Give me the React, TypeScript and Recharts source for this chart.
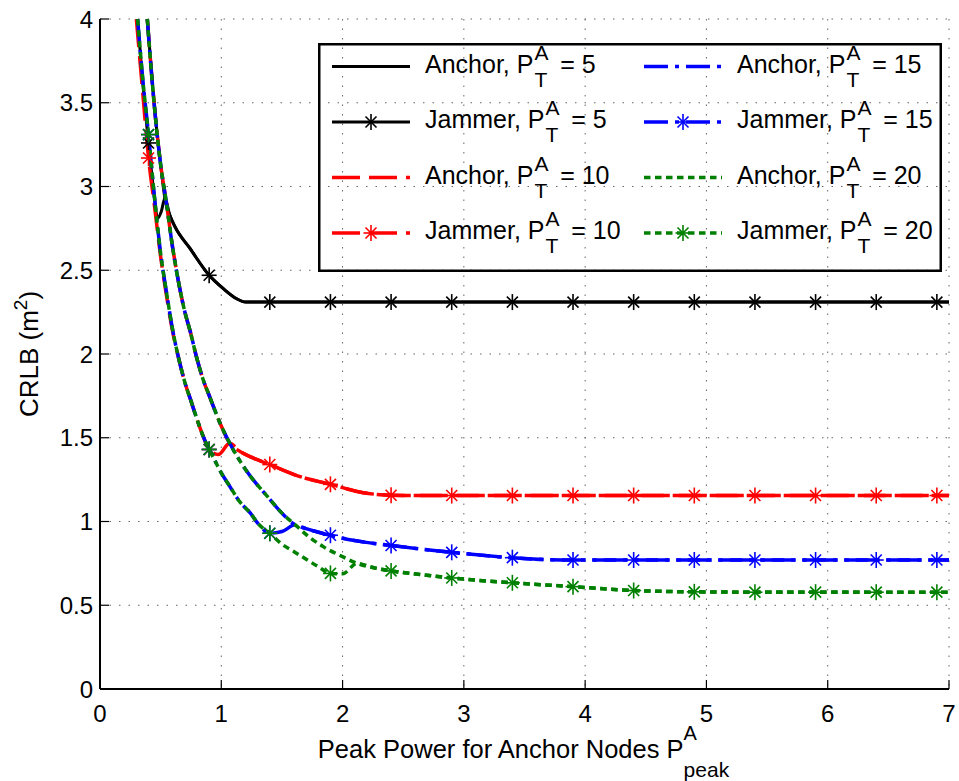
import { LineChart, Line, XAxis, YAxis, CartesianGrid, Legend, Label } from "recharts";

const FONT = "'Liberation Sans', Arial, Helvetica, sans-serif";

const X_TICKS = [0, 1, 2, 3, 4, 5, 6, 7];
const Y_TICKS = [0, 0.5, 1, 1.5, 2, 2.5, 3, 3.5, 4];
const MARKER_X = [0.4, 0.9, 1.4, 1.9, 2.4, 2.9, 3.4, 3.9, 4.4, 4.9, 5.4, 5.9, 6.4, 6.9];

// [x, CRLB]
const anchor5 = [
  [0.39, 4.0], [0.43, 3.63], [0.467, 3.34], [0.5, 3.13], [0.535, 2.93], [0.575, 2.83], [0.618, 2.76],
  [0.742, 2.63], [0.9, 2.47], [1.017, 2.39], [1.127, 2.33], [1.2, 2.31], [7, 2.31],
];
const jammer5 = [
  [0.31, 4.0], [0.35, 3.64], [0.4, 3.26], [0.44, 2.99], [0.476, 2.81], [0.505, 2.85], [0.535, 2.93],
  [0.575, 2.83], [0.618, 2.76], [0.742, 2.63], [0.9, 2.47], [1.017, 2.39], [1.127, 2.33], [1.2, 2.31],
  [1.4, 2.31], [1.9, 2.31], [2.4, 2.31], [2.9, 2.31], [3.4, 2.31], [3.9, 2.31], [4.4, 2.31], [4.9, 2.31],
  [5.4, 2.31], [5.9, 2.31], [6.4, 2.31], [6.9, 2.31], [7, 2.31],
];
const anchor10 = [
  [0.39, 4.0], [0.43, 3.63], [0.467, 3.34], [0.5, 3.13], [0.544, 2.92], [0.6, 2.63], [0.65, 2.42],
  [0.7, 2.25], [0.742, 2.14], [0.8, 1.97], [0.849, 1.85], [0.907, 1.74], [1.0, 1.57], [1.07, 1.467],
  [1.15, 1.42], [1.237, 1.387], [1.39, 1.343], [1.649, 1.268], [1.89, 1.224], [2.17, 1.172],
  [2.4, 1.157], [2.6, 1.155], [7, 1.155],
];
const jammer10 = [
  [0.3, 4.0], [0.35, 3.58], [0.4, 3.17], [0.45, 2.88], [0.5, 2.58], [0.55, 2.34], [0.6, 2.13],
  [0.65, 1.97], [0.7, 1.83], [0.75, 1.72], [0.8, 1.61], [0.85, 1.51], [0.9, 1.43], [0.975, 1.4],
  [1.07, 1.467], [1.15, 1.42], [1.237, 1.387], [1.4, 1.34], [1.649, 1.268], [1.9, 1.222],
  [2.17, 1.172], [2.4, 1.157], [2.6, 1.155], [2.9, 1.155], [3.4, 1.155], [3.9, 1.155], [4.4, 1.155],
  [4.9, 1.155], [5.4, 1.155], [5.9, 1.155], [6.4, 1.155], [6.9, 1.155], [7, 1.155],
];
const anchor15 = [
  [0.39, 4.0], [0.43, 3.63], [0.467, 3.34], [0.5, 3.13], [0.544, 2.92], [0.6, 2.63], [0.65, 2.42],
  [0.7, 2.25], [0.742, 2.14], [0.8, 1.97], [0.849, 1.85], [0.907, 1.74], [1.0, 1.57], [1.07, 1.467],
  [1.2, 1.31], [1.38, 1.15], [1.5, 1.05], [1.61, 0.98], [1.7, 0.957], [1.89, 0.919], [2.1, 0.886],
  [2.4, 0.857], [2.9, 0.816], [3.4, 0.783], [3.7, 0.772], [3.9, 0.77], [7, 0.77],
];
const jammer15 = [
  [0.31, 4.0], [0.35, 3.66], [0.4, 3.31], [0.45, 2.93], [0.5, 2.6], [0.55, 2.36], [0.6, 2.14],
  [0.65, 1.97], [0.7, 1.83], [0.75, 1.72], [0.8, 1.61], [0.85, 1.51], [0.9, 1.43], [0.95, 1.36],
  [1.0, 1.29], [1.07, 1.21], [1.15, 1.12], [1.24, 1.05], [1.3, 0.99], [1.4, 0.93], [1.5, 0.94],
  [1.61, 0.98], [1.7, 0.957], [1.9, 0.918], [2.1, 0.886], [2.4, 0.857], [2.9, 0.816], [3.4, 0.784],
  [3.7, 0.772], [3.9, 0.77], [4.4, 0.77], [4.9, 0.77], [5.4, 0.77], [5.9, 0.77], [6.4, 0.77],
  [6.9, 0.77], [7, 0.77],
];
const anchor20 = [
  [0.39, 4.0], [0.43, 3.63], [0.467, 3.34], [0.5, 3.13], [0.544, 2.92], [0.6, 2.63], [0.65, 2.42],
  [0.7, 2.25], [0.742, 2.14], [0.8, 1.97], [0.849, 1.85], [0.907, 1.74], [1.0, 1.57], [1.07, 1.467],
  [1.2, 1.31], [1.38, 1.15], [1.5, 1.05], [1.61, 0.98], [1.72, 0.91], [1.84, 0.85], [2.0, 0.79],
  [2.12, 0.75], [2.25, 0.725], [2.4, 0.705], [2.65, 0.683], [2.9, 0.663], [3.4, 0.634], [3.9, 0.611],
  [4.4, 0.588], [4.7, 0.582], [4.9, 0.58], [7, 0.578],
];
const jammer20 = [
  [0.31, 4.0], [0.35, 3.66], [0.4, 3.31], [0.45, 2.93], [0.5, 2.6], [0.55, 2.36], [0.6, 2.14],
  [0.65, 1.97], [0.7, 1.83], [0.75, 1.72], [0.8, 1.61], [0.85, 1.51], [0.9, 1.43], [0.95, 1.36],
  [1.0, 1.29], [1.07, 1.21], [1.15, 1.12], [1.24, 1.05], [1.3, 0.99], [1.4, 0.93], [1.5, 0.865],
  [1.6, 0.82], [1.7, 0.775], [1.8, 0.73], [1.9, 0.69], [2.0, 0.688], [2.12, 0.75], [2.25, 0.725],
  [2.4, 0.705], [2.65, 0.683], [2.9, 0.663], [3.4, 0.634], [3.9, 0.611], [4.4, 0.588], [4.9, 0.58],
  [5.4, 0.578], [5.9, 0.578], [6.4, 0.578], [6.9, 0.578], [7, 0.578],
];

const toPts = (rows: number[][]) => rows.map(([x, y]) => ({ x, y }));

type Series = {
  kind: string;
  pt: number;
  rows: number[][];
  color: string;
  dash?: string;
  marker: boolean;
};

const SERIES: Series[] = [
  { kind: "Anchor", pt: 5, rows: anchor5, color: "#000000", marker: false },
  { kind: "Jammer", pt: 5, rows: jammer5, color: "#000000", marker: true },
  { kind: "Anchor", pt: 10, rows: anchor10, color: "#ff0000", dash: "28 9", marker: false },
  { kind: "Jammer", pt: 10, rows: jammer10, color: "#ff0000", dash: "28 9", marker: true },
  { kind: "Anchor", pt: 15, rows: anchor15, color: "#0000ff", dash: "24 7 4 7", marker: false },
  { kind: "Jammer", pt: 15, rows: jammer15, color: "#0000ff", dash: "24 7 4 7", marker: true },
  { kind: "Anchor", pt: 20, rows: anchor20, color: "#008000", dash: "6.5 4.5", marker: false },
  { kind: "Jammer", pt: 20, rows: jammer20, color: "#008000", dash: "6.5 4.5", marker: true },
];

function Star({ cx, cy, color }: { cx: number; cy: number; color: string }) {
  return (
    <g stroke={color} strokeWidth={1.6} strokeDasharray="none" fill="none">
      <line x1={cx} y1={cy - 8} x2={cx} y2={cy + 8} />
      <line x1={cx - 7.5} y1={cy} x2={cx + 7.5} y2={cy} />
      <line x1={cx - 5.5} y1={cy - 5.5} x2={cx + 5.5} y2={cy + 5.5} />
      <line x1={cx - 5.5} y1={cy + 5.5} x2={cx + 5.5} y2={cy - 5.5} />
    </g>
  );
}

const starDot = (color: string) => (props: any) => {
  const { cx, cy, payload, index } = props;
  if (!MARKER_X.includes(payload.x)) return <g key={`d-${index}`} />;
  return <Star key={`d-${index}`} cx={cx} cy={cy} color={color} />;
};

function Entry({ s, x, y }: { s: Series; x: number; y: number }) {
  const lx = x;
  const tx = x + 93;
  return (
    <g>
      <line
        x1={lx}
        y1={y}
        x2={lx + 78}
        y2={y}
        stroke={s.color}
        strokeWidth={s.color === "#000000" ? 3 : 3.5}
        strokeDasharray={s.dash}
      />
      {s.marker && <Star cx={lx + 39} cy={y} color={s.color} />}
      <text x={tx} y={y + 6} fontSize={25} fontFamily={FONT} fill="#000">
        {s.kind}, P
        <tspan dx={1} dy={-13} fontSize={21}>A</tspan>
        <tspan dx={-12.5} dy={27} fontSize={21}>T</tspan>
        <tspan dx={6} dy={-14} fontSize={25}>{` = ${s.pt}`}</tspan>
      </text>
    </g>
  );
}

function LegendBox() {
  const rowY = [23.5, 79, 134.5, 190];
  const colX = [14, 326];
  return (
    <svg width={624} height={229} style={{ display: "block", overflow: "visible" }}>
      <rect x={1.25} y={1.25} width={621.5} height={226.5} fill="none" stroke="#000" strokeWidth={2.5} />
      {SERIES.map((s, i) => (
        <Entry key={i} s={s} x={colX[Math.floor(i / 4)]} y={rowY[i % 4]} />
      ))}
    </svg>
  );
}

const XLabel = (props: any) => {
  const vb = props.viewBox;
  const cx = vb.x + vb.width / 2 - 1;
  return (
    <text x={cx} y={vb.y + 69} textAnchor="middle" fontSize={25.5} fontFamily={FONT} fill="#000">
      Peak Power for Anchor Nodes P
      <tspan dy={-18} fontSize={20}>A</tspan>
      <tspan dx={-13.3} dy={37} fontSize={21}>peak</tspan>
    </text>
  );
};

const YLabel = (props: any) => {
  const vb = props.viewBox;
  const cy = vb.y + vb.height / 2;
  const x = 38;
  return (
    <text
      x={x}
      y={cy}
      transform={`rotate(-90 ${x} ${cy})`}
      textAnchor="middle"
      fontSize={26}
      fontFamily={FONT}
      fill="#000"
    >
      CRLB (m
      <tspan dy={-11} fontSize={19}>2</tspan>
      <tspan dy={11}>)</tspan>
    </text>
  );
};

const axisLine = { stroke: "#000", strokeWidth: 2 };
const tickLine = { stroke: "#000", strokeWidth: 1.2 };
const tickStyle = { fill: "#000", fontSize: 24, fontFamily: FONT };

export default function App() {
  return (
    <div style={{ position: "absolute", left: 0, top: 0, background: "#fff" }}>
      <LineChart width={959} height={781} margin={{ top: 19, right: 10, bottom: 0, left: 0 }}>
        <CartesianGrid stroke="#666" strokeWidth={1} strokeDasharray="1.5 8" />
        <XAxis
          type="number"
          dataKey="x"
          domain={[0, 7]}
          ticks={X_TICKS}
          interval={0}
          allowDataOverflow
          height={92}
          tickSize={-9}
          tickMargin={25}
          axisLine={axisLine}
          tickLine={tickLine}
          tick={tickStyle}
        >
          <Label content={XLabel} />
        </XAxis>
        <XAxis
          xAxisId="top"
          orientation="top"
          type="number"
          dataKey="x"
          domain={[0, 7]}
          ticks={X_TICKS}
          interval={0}
          height={0}
          tickSize={-9}
          tickFormatter={() => ""}
          axisLine={axisLine}
          tickLine={tickLine}
        />
        <YAxis
          type="number"
          domain={[0, 4]}
          ticks={Y_TICKS}
          interval={0}
          allowDataOverflow
          width={100}
          tickSize={-9}
          tickMargin={16}
          axisLine={axisLine}
          tickLine={tickLine}
          tick={tickStyle}
        >
          <Label content={YLabel} />
        </YAxis>
        <YAxis
          yAxisId="right"
          orientation="right"
          type="number"
          domain={[0, 4]}
          ticks={Y_TICKS}
          interval={0}
          width={0}
          tickSize={-9}
          tickFormatter={() => ""}
          axisLine={axisLine}
          tickLine={tickLine}
        />
        {SERIES.map((s, i) => (
          <Line
            key={i}
            data={toPts(s.rows)}
            dataKey="y"
            type="monotone"
            stroke={s.color}
            strokeWidth={s.color === "#000000" ? 3 : 3.5}
            strokeDasharray={s.dash}
            dot={s.marker ? starDot(s.color) : false}
            activeDot={false}
            legendType="none"
            isAnimationActive={false}
          />
        ))}
        <Legend
          layout="vertical"
          align="center"
          verticalAlign="middle"
          content={() => <LegendBox />}
          wrapperStyle={{ left: 318, top: 43, width: 624, height: 229 }}
        />
      </LineChart>
    </div>
  );
}
